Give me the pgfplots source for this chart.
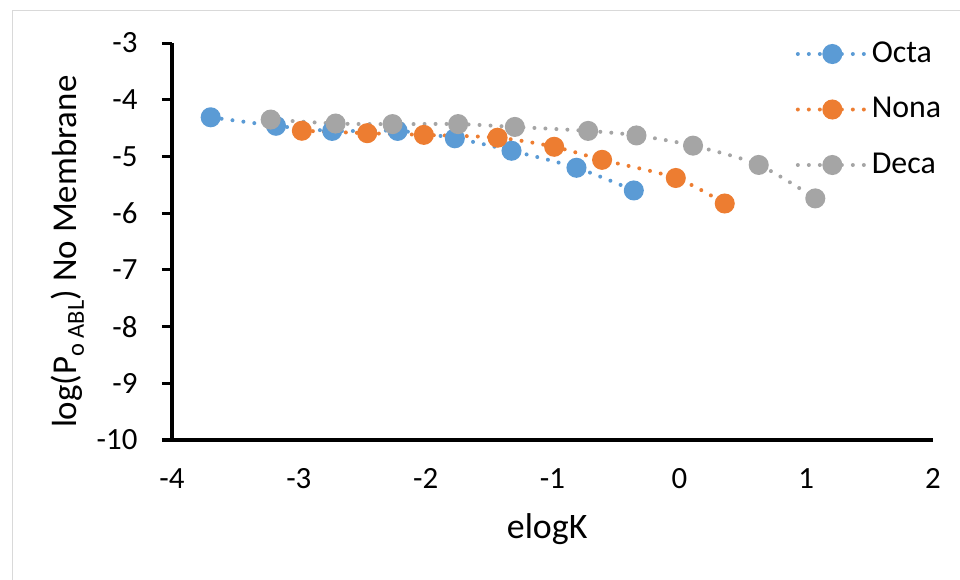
\documentclass[border=0pt]{standalone}
\usepackage{fontspec}
\setmainfont{Carlito}
\usepackage{pgfplots}
\pgfplotsset{compat=1.18}
\definecolor{cblue}{HTML}{5B9BD5}
\definecolor{corange}{HTML}{ED7D31}
\definecolor{cgray}{HTML}{A5A5A5}
\begin{document}
\begin{tikzpicture}
\useasboundingbox (0,0) rectangle (960bp,580bp);
\draw[line width=1bp, black!15] (12bp,0) -- (12bp,569bp) -- (960bp,569bp);
\begin{axis}[
  at={(172bp,140bp)}, anchor=south west,
  scale only axis, width=761bp, height=397bp,
  xmin=-4, xmax=2, ymin=-10, ymax=-3,
  clip=false,
  axis lines=left,
  axis line style={line width=3bp, black, -},
  xtick={-4,-3,...,2}, ytick={-10,-9,...,-3},
  xtick style={draw=none},
  ytick style={line width=3bp, black},
  tick align=outside,
  major tick length=10bp,
  /pgf/number format/assume math mode=true,
  tick label style={font=\fontsize{31}{37}\selectfont},
  xticklabel style={yshift=-15bp},
  yticklabel style={xshift=-21bp},
  xlabel={elogK},
  ylabel={log(P\textsubscript{o ABL}) No Membrane},
  every axis x label/.style={at={(axis description cs:0.493,-0.225)}, anchor=center, font=\fontsize{36}{43}\selectfont},
  every axis y label/.style={at={(axis description cs:-0.137,0.474)}, anchor=center, rotate=90, font=\fontsize{35}{42}\selectfont},
  every axis plot/.append style={line width=4bp, dash pattern=on 0bp off 11bp, line cap=round, smooth, tension=0.5},
  legend image code/.code={%
    \draw[#1] (0bp,-2bp) -- (69bp,-2bp);
    \draw[#1] plot coordinates {(34.5bp,-2bp)};},
  legend style={draw=none, fill=none, at={(axis description cs:0.8195,1.003)}, anchor=north west,
    font=\fontsize{32}{38}\selectfont, inner sep=0pt, row sep=35.5bp,
    nodes={inner sep=0pt, text height=20bp, text depth=0bp},
    /tikz/column 1/.style={column sep=3bp}},
  legend cell align=left,
]
\addplot[color=cblue, mark=*, mark size=8bp, mark options={solid, draw=none, fill=cblue}] coordinates {
(-3.695,-4.31) (-3.18,-4.46) (-2.737,-4.55) (-2.221,-4.55) (-1.77,-4.68) (-1.323,-4.90) (-0.811,-5.20) (-0.359,-5.60)};
\addlegendentry{Octa}
\addplot[color=corange, mark=*, mark size=8bp, mark options={solid, draw=none, fill=corange}] coordinates {
(-2.976,-4.547) (-2.461,-4.59) (-2.014,-4.62) (-1.433,-4.67) (-0.987,-4.83) (-0.609,-5.06) (-0.028,-5.38) (0.358,-5.83)};
\addlegendentry{Nona}
\addplot[color=cgray, mark=*, mark size=8bp, mark options={solid, draw=none, fill=cgray}] coordinates {
(-3.222,-4.35) (-2.71,-4.42) (-2.261,-4.43) (-1.744,-4.43) (-1.297,-4.48) (-0.719,-4.55) (-0.338,-4.63) (0.108,-4.81) (0.626,-5.15) (1.072,-5.74)};
\addlegendentry{Deca}
\end{axis}
\end{tikzpicture}
\end{document}
